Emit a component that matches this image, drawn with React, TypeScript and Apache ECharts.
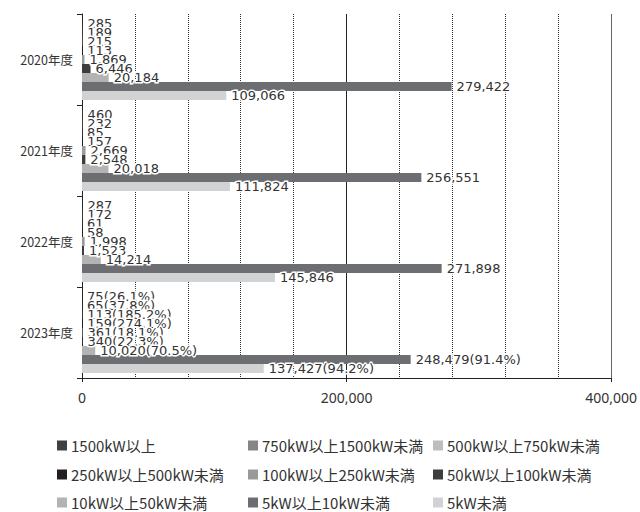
import React, { useEffect, useRef } from "react";
import * as echarts from "echarts";

const categories = ["2020年度", "2021年度", "2022年度", "2023年度"];
const seriesNames = [
  "1500kW以上",
  "750kW以上1500kW未満",
  "500kW以上750kW未満",
  "250kW以上500kW未満",
  "100kW以上250kW未満",
  "50kW以上100kW未満",
  "10kW以上50kW未満",
  "5kW以上10kW未満",
  "5kW未満",
];
const colors = ["#404040", "#858585", "#bdbdbf", "#231f20", "#9a9a9a", "#3d3d3d", "#b3b3b3", "#6d6e71", "#d1d2d4"];

const s1500 = [285, 460, 287, 75];
const s750 = [189, 232, 172, 65];
const s500 = [215, 85, 61, 113];
const s250 = [113, 157, 58, 159];
const s100 = [1869, 2669, 1998, 361];
const s50 = [6446, 2548, 1523, 340];
const s10 = [20184, 20018, 14214, 10020];
const s5to10 = [279422, 256551, 271898, 248479];
const s5 = [109066, 111824, 145846, 137427];
const seriesValues = [s1500, s750, s500, s250, s100, s50, s10, s5to10, s5];

// 2023年度 percentages (vs previous year)
const pct2023 = [26.1, 37.8, 185.2, 274.1, 18.1, 22.3, 70.5, 91.4, 94.2];

const CJK = '"Noto Sans CJK JP", "Noto Sans", sans-serif';

// legend layout: column lefts and row tops
const legendCols = [57, 248, 433];
const legendRows = [438, 467, 495];

export default function App() {
  const ref = useRef<HTMLDivElement>(null);
  useEffect(() => {
    if (!ref.current) return;
    const chart = echarts.init(ref.current, null, { renderer: "svg" });
    const fmt = (v: number) => v.toLocaleString("en-US");
    const series = seriesNames.map((name, si) => ({
      name,
      type: "bar",
      data: seriesValues[si],
      itemStyle: { color: colors[si] },
      barGap: "0%",
      barCategoryGap: "11%",
      label: {
        show: true,
        position: "right",
        distance: 5,
        fontSize: 13,
        fontFamily: '"DejaVu Sans", sans-serif',
        color: "#333",
        textBorderColor: "#fff",
        textBorderWidth: 3,
        formatter: (p: any) =>
          p.dataIndex === 3 ? `${fmt(p.value)}(${pct2023[si]}%)` : fmt(p.value),
      },
    }));
    const legends = seriesNames.map((name, i) => ({
      orient: "horizontal",
      left: legendCols[i % 3],
      top: legendRows[Math.floor(i / 3)],
      padding: 0,
      icon: "rect",
      itemWidth: 10,
      itemHeight: 10,
      itemGap: 6,
      textStyle: { fontSize: 15, fontFamily: CJK, color: "#333", padding: [0, 0, 0, -1] },
      data: [name],
    }));
    chart.setOption({
      animation: false,
      textStyle: { fontFamily: CJK },
      grid: { left: 82, right: 17, top: 14, bottom: 134, containLabel: false },
      legend: legends,
      xAxis: {
        type: "value",
        min: 0,
        max: 400000,
        interval: 200000,
        axisLine: { show: true, lineStyle: { color: "#222" } },
        axisTick: { show: true, length: 4, lineStyle: { color: "#222" } },
        axisLabel: {
          fontSize: 14,
          fontFamily: '"Noto Sans", sans-serif',
          color: "#333",
          margin: 12,
          formatter: (v: number) => fmt(v),
        },
        splitLine: { show: true, lineStyle: { color: ["#222", "#222", "#666"], width: 1 } },
        minorTick: { show: false, splitNumber: 5 },
        minorSplitLine: { show: true, lineStyle: { color: "#333", type: "dotted", width: 1 } },
      },
      yAxis: {
        type: "category",
        data: categories,
        inverse: true,
        axisLine: { show: true, lineStyle: { color: "#222" } },
        axisTick: { show: true, length: 5, lineStyle: { color: "#222" } },
        axisLabel: { fontSize: 12.5, fontFamily: CJK, color: "#333", margin: 9 },
      },
      series,
    });
    return () => chart.dispose();
  }, []);
  return (
    <div
      ref={ref}
      style={{ position: "absolute", left: 0, top: 0, width: 640, height: 512 }}
    />
  );
}
